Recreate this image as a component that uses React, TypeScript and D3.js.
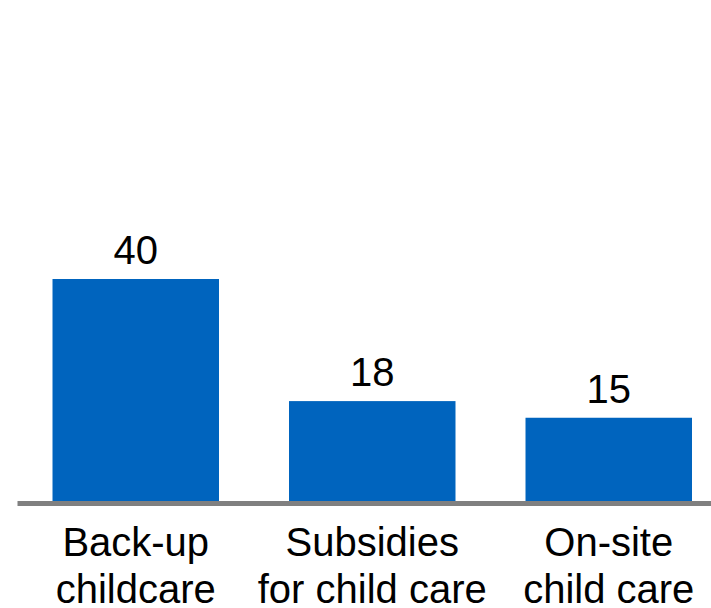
import React from "react";
import * as d3 from "d3";

const categories: string[][] = [
  ["Back-up", "childcare"],
  ["Subsidies", "for child care"],
  ["On-site", "child care"],
];
const values: number[] = [40, 18, 15];

const W = 711;
const H = 608;

export default function App() {
  const keys = categories.map((c) => c.join(" "));
  const x = d3
    .scaleBand<string>()
    .domain(keys)
    .range([17.5, 727])
    .paddingInner(0.296)
    .paddingOuter(0.148);
  const baseline = 501;
  const y = d3.scaleLinear().domain([0, 90]).range([baseline, baseline - 499.5]);

  return (
    <svg
      width={W}
      height={H}
      style={{ position: "absolute", left: 0, top: 0, background: "#fff" }}
      fontFamily="'Liberation Sans', Arial, Helvetica, sans-serif"
    >
      {values.map((v, i) => {
        const k = keys[i];
        const x0 = x(k) as number;
        return (
          <g key={k}>
            <rect
              x={x0}
              y={y(v)}
              width={x.bandwidth()}
              height={baseline - y(v)}
              fill="#0064BE"
            />
            <text
              x={x0 + x.bandwidth() / 2}
              y={y(v) - 15}
              textAnchor="middle"
              fontSize={40}
              fill="#000"
            >
              {v}
            </text>
          </g>
        );
      })}
      <line x1={17.5} x2={W} y1={baseline + 2.5} y2={baseline + 2.5} stroke="#808080" strokeWidth={5} />
      {categories.map((lines, i) => {
        const k = keys[i];
        const cx = (x(k) as number) + x.bandwidth() / 2;
        return (
          <text key={k} x={cx} textAnchor="middle" fontSize={40} fill="#000">
            {lines.map((t, j) => (
              <tspan key={j} x={cx} y={556 + j * 47}>
                {t}
              </tspan>
            ))}
          </text>
        );
      })}
    </svg>
  );
}
